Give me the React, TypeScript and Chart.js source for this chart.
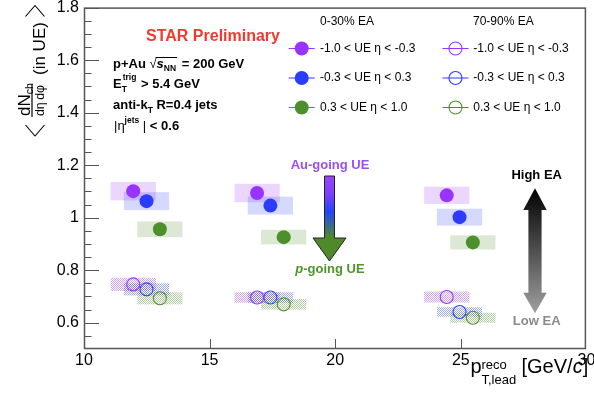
import { useEffect, useRef } from 'react';
import { Chart, registerables } from 'chart.js';

Chart.register(...registerables);

// ---- data ----
const X_PURPLE = [11.96, 16.89, 24.44];
const X_BLUE = [12.49, 17.42, 24.95];
const X_GREEN = [13.02, 17.95, 25.48];

// 0-30% EA (filled)
const HIGH_PURPLE = [1.101, 1.094, 1.085];
const HIGH_BLUE = [1.063, 1.046, 1.002];
const HIGH_GREEN = [0.956, 0.926, 0.906];
// 70-90% EA (open)
const LOW_PURPLE = [0.746, 0.696, 0.698];
const LOW_BLUE = [0.727, 0.696, 0.641];
const LOW_GREEN = [0.693, 0.67, 0.619];

// systematic half-heights
const SYS_HIGH_PURPLE = [0.035, 0.035, 0.033];
const SYS_HIGH_BLUE = [0.034, 0.034, 0.032];
const SYS_HIGH_GREEN = [0.03, 0.028, 0.027];
const SYS_LOW_PURPLE = [0.025, 0.02, 0.021];
const SYS_LOW_BLUE = [0.023, 0.02, 0.018];
const SYS_LOW_GREEN = [0.023, 0.02, 0.019];
const SYS_X = 0.9;

const X_TICKS = [10, 15, 20, 25, 30];
const Y_TICKS = [0.6, 0.8, 1, 1.2, 1.4, 1.6, 1.8];
const Y_MINOR_STEP = 0.05;

const ETA_LABELS = ['-1.0 < UE \u03b7 < -0.3', '-0.3 < UE \u03b7 < 0.3', '0.3 < UE \u03b7 < 1.0'];
const CLASS_LABELS = ['0-30% EA', '70-90% EA'];

const RGB_PURPLE = '153,51,255';
const RGB_BLUE = '43,60,255';
const RGB_GREEN = '77,143,42';

type Series = { xs: number[]; ys: number[]; sys: number[]; rgb: string; open: boolean; label: string };

const SERIES: Series[] = [
  { xs: X_PURPLE, ys: HIGH_PURPLE, sys: SYS_HIGH_PURPLE, rgb: RGB_PURPLE, open: false, label: ETA_LABELS[0] },
  { xs: X_BLUE, ys: HIGH_BLUE, sys: SYS_HIGH_BLUE, rgb: RGB_BLUE, open: false, label: ETA_LABELS[1] },
  { xs: X_GREEN, ys: HIGH_GREEN, sys: SYS_HIGH_GREEN, rgb: RGB_GREEN, open: false, label: ETA_LABELS[2] },
  { xs: X_PURPLE, ys: LOW_PURPLE, sys: SYS_LOW_PURPLE, rgb: RGB_PURPLE, open: true, label: ETA_LABELS[0] },
  { xs: X_BLUE, ys: LOW_BLUE, sys: SYS_LOW_BLUE, rgb: RGB_BLUE, open: true, label: ETA_LABELS[1] },
  { xs: X_GREEN, ys: LOW_GREEN, sys: SYS_LOW_GREEN, rgb: RGB_GREEN, open: true, label: ETA_LABELS[2] },
];

const FONT = '"Liberation Sans", Arial, Helvetica, sans-serif';

function dotPattern(ctx: CanvasRenderingContext2D, rgb: string) {
  const c = document.createElement('canvas');
  c.width = 2;
  c.height = 2;
  const g = c.getContext('2d')!;
  g.fillStyle = `rgba(${rgb},0.45)`;
  g.fillRect(0, 0, 1, 1);
  g.fillRect(1, 1, 1, 1);
  return ctx.createPattern(c, 'repeat')!;
}

const boxesPlugin = {
  id: 'sysBoxes',
  beforeDatasetsDraw(chart: any) {
    const { ctx, chartArea, scales } = chart;
    const x = scales.x;
    const y = scales.y;
    ctx.save();
    ctx.beginPath();
    ctx.rect(chartArea.left, chartArea.top, chartArea.right - chartArea.left, chartArea.bottom - chartArea.top);
    ctx.clip();
    SERIES.forEach((s) => {
      ctx.fillStyle = s.open ? dotPattern(ctx, s.rgb) : `rgba(${s.rgb},0.2)`;
      s.xs.forEach((xv, i) => {
        const x0 = x.getPixelForValue(xv - SYS_X);
        const x1 = x.getPixelForValue(xv + SYS_X);
        const y0 = y.getPixelForValue(s.ys[i] + s.sys[i]);
        const y1 = y.getPixelForValue(s.ys[i] - s.sys[i]);
        ctx.fillRect(x0, y0, x1 - x0, y1 - y0);
      });
    });
    ctx.restore();
  },
};

function fillRuns(ctx: CanvasRenderingContext2D, x: number, y: number, runs: { t: string; f: string; dy?: number }[]) {
  let cx = x;
  for (const r of runs) {
    ctx.font = r.f;
    ctx.fillText(r.t, cx, y + (r.dy || 0));
    cx += ctx.measureText(r.t).width;
  }
  return cx;
}

function runsWidth(ctx: CanvasRenderingContext2D, runs: { t: string; f: string }[]) {
  let w = 0;
  for (const r of runs) {
    ctx.font = r.f;
    w += ctx.measureText(r.t).width;
  }
  return w;
}

const decorPlugin = {
  id: 'decor',
  afterDatasetsDraw(chart: any) {
    const { ctx, chartArea, scales } = chart;
    const { left, right, top, bottom } = chartArea;
    const x = scales.x;
    const y = scales.y;
    ctx.save();

    // frame
    ctx.strokeStyle = '#555';
    ctx.lineWidth = 1.5;
    ctx.strokeRect(left + 0.5, top + 0.5, right - left - 1.5, bottom - top - 1);

    // y ticks (inside)
    ctx.strokeStyle = '#555';
    ctx.lineWidth = 1;
    ctx.beginPath();
    const nMinor = Math.round((1.8 - 0.5) / Y_MINOR_STEP);
    for (let k = 1; k <= nMinor; k++) {
      const v = Math.round((0.5 + k * Y_MINOR_STEP) * 100) / 100;
      const major = Y_TICKS.some((t) => Math.abs(t - v) < 1e-6);
      const py = Math.round(y.getPixelForValue(v)) + 0.5;
      ctx.moveTo(left, py);
      ctx.lineTo(left + (major ? 15 : 7.5), py);
    }
    // x ticks
    X_TICKS.forEach((t) => {
      if (t === X_TICKS[0] || t === X_TICKS[X_TICKS.length - 1]) return;
      const px = Math.round(x.getPixelForValue(t)) + 0.5;
      ctx.moveTo(px, bottom);
      ctx.lineTo(px, bottom - 10);
    });
    ctx.stroke();

    // ---- legend ----
    ctx.fillStyle = '#000';
    ctx.font = `12px ${FONT}`;
    ctx.textBaseline = 'middle';
    ctx.textAlign = 'left';
    ctx.fillText(CLASS_LABELS[0], 320, 22);
    ctx.fillText(CLASS_LABELS[1], 473, 22);
    const rowsY = [48.5, 78, 107.5];
    SERIES.forEach((s, i) => {
      const col = s.open ? 1 : 0;
      const row = i % 3;
      const mx = col === 0 ? 301.7 : 455.5;
      const my = rowsY[row];
      ctx.strokeStyle = `rgb(${s.rgb})`;
      ctx.lineWidth = 1;
      ctx.beginPath();
      ctx.moveTo(mx - 13, my);
      ctx.lineTo(mx + 13, my);
      ctx.stroke();
      ctx.beginPath();
      ctx.arc(mx, my, s.open ? 6.5 : 7, 0, Math.PI * 2);
      if (s.open) {
        ctx.lineWidth = 1.1;
        ctx.stroke();
      } else {
        ctx.fillStyle = `rgb(${s.rgb})`;
        ctx.fill();
      }
      ctx.fillStyle = '#000';
      ctx.font = `12px ${FONT}`;
      ctx.fillText(s.label, col === 0 ? 320 : 473.3, my);
    });

    // ---- STAR Preliminary ----
    ctx.textAlign = 'center';
    ctx.fillStyle = '#f03a2e';
    ctx.font = `bold 16px ${FONT}`;
    ctx.fillText('STAR Preliminary', 213, 37);

    // ---- info text ----
    ctx.textAlign = 'left';
    ctx.textBaseline = 'alphabetic';
    ctx.fillStyle = '#000';
    const B = `bold 13px ${FONT}`;
    const BS = `bold 8.5px ${FONT}`;
    // line 1
    let cx = fillRuns(ctx, 113, 67.5, [{ t: 'p+Au ', f: B }]);
    ctx.font = `13px ${FONT}`;
    ctx.fillText('\u221a', cx, 68);
    cx += ctx.measureText('\u221a').width;
    const ovStart = cx - 1;
    cx = fillRuns(ctx, cx, 67.5, [
      { t: 's', f: `italic bold 13px ${FONT}` },
      { t: 'NN', f: BS, dy: 3 },
    ]);
    ctx.lineWidth = 1;
    ctx.strokeStyle = '#000';
    ctx.beginPath();
    ctx.moveTo(ovStart, 57.5);
    ctx.lineTo(cx + 1, 57.5);
    ctx.stroke();
    fillRuns(ctx, cx + 2, 67.5, [{ t: ' = 200 GeV', f: B }]);
    // line 2
    cx = fillRuns(ctx, 113, 88, [{ t: 'E', f: B }]);
    ctx.font = BS;
    ctx.fillText('trig', cx + 1, 80);
    ctx.fillText('T', cx, 92);
    const wTrig = ctx.measureText('trig').width;
    fillRuns(ctx, cx + wTrig + 2, 88, [{ t: ' > 5.4 GeV', f: B }]);
    // line 3
    cx = fillRuns(ctx, 113, 109, [
      { t: 'anti-k', f: B },
      { t: 'T', f: BS, dy: 3.5 },
      { t: ' R=0.4 jets', f: B },
    ]);
    // line 4
    cx = fillRuns(ctx, 114, 130, [
      { t: '|\u03b7', f: `13px ${FONT}` },
      { t: 'jets', f: BS, dy: -7 },
      { t: ' |', f: `13px ${FONT}` },
      { t: ' < 0.6', f: B },
    ]);

    // ---- Au-going / p-going arrow ----
    ctx.textAlign = 'center';
    ctx.font = `bold 13px ${FONT}`;
    ctx.fillStyle = '#9a4ff2';
    ctx.fillText('Au-going UE', 330, 168.5);
    const grad = ctx.createLinearGradient(0, 176, 0, 261);
    grad.addColorStop(0, '#9a44ff');
    grad.addColorStop(0.22, '#7a40ff');
    grad.addColorStop(0.42, '#2244ff');
    grad.addColorStop(0.72, '#4e8a2a');
    grad.addColorStop(1, '#4e8a2a');
    ctx.beginPath();
    ctx.moveTo(324.5, 176);
    ctx.lineTo(334.5, 176);
    ctx.lineTo(334.5, 238);
    ctx.lineTo(346, 238);
    ctx.lineTo(329.5, 261);
    ctx.lineTo(313, 238);
    ctx.lineTo(324.5, 238);
    ctx.closePath();
    ctx.fillStyle = grad;
    ctx.fill();
    ctx.strokeStyle = '#222';
    ctx.lineWidth = 1;
    ctx.stroke();
    const pRuns = [
      { t: 'p', f: `italic bold 13px ${FONT}` },
      { t: '-going UE', f: `bold 13px ${FONT}` },
    ];
    ctx.textAlign = 'left';
    ctx.fillStyle = '#4e952a';
    const pw = runsWidth(ctx, pRuns);
    fillRuns(ctx, 330 - pw / 2, 273, pRuns);

    // ---- High EA / Low EA arrow ----
    ctx.textAlign = 'center';
    ctx.fillStyle = '#000';
    ctx.font = `bold 13px ${FONT}`;
    ctx.fillText('High EA', 536.7, 178.5);
    ctx.fillStyle = '#8a8a8a';
    ctx.fillText('Low EA', 536.7, 324.5);
    const g2 = ctx.createLinearGradient(0, 188, 0, 314);
    g2.addColorStop(0, '#000');
    g2.addColorStop(1, '#a0a0a0');
    ctx.beginPath();
    ctx.moveTo(535, 188.3);
    ctx.lineTo(546.7, 210);
    ctx.lineTo(541.6, 210);
    ctx.lineTo(541.6, 292.7);
    ctx.lineTo(546.7, 292.7);
    ctx.lineTo(535, 313.3);
    ctx.lineTo(523.3, 292.7);
    ctx.lineTo(528.4, 292.7);
    ctx.lineTo(528.4, 210);
    ctx.lineTo(523.3, 210);
    ctx.closePath();
    ctx.fillStyle = g2;
    ctx.fill();

    // ---- x axis title ----
    ctx.fillStyle = '#000';
    ctx.textAlign = 'left';
    ctx.font = `20px ${FONT}`;
    ctx.fillText('p', 470.5, 373);
    ctx.font = `13px ${FONT}`;
    ctx.fillText('reco', 481.5, 368.5);
    ctx.fillText('T,lead', 481.5, 384);
    fillRuns(ctx, 521.5, 373, [
      { t: '[GeV/', f: `20px ${FONT}` },
      { t: 'c', f: `italic 20px ${FONT}` },
      { t: ']', f: `20px ${FONT}` },
    ]);

    // ---- y axis title (rotated) ----
    ctx.save();
    ctx.translate(0, 140);
    ctx.rotate(-Math.PI / 2);
    ctx.textAlign = 'left';
    ctx.textBaseline = 'alphabetic';
    ctx.font = `17px ${FONT}`;
    ctx.fillText('(in UE)', 65, 45);
    ctx.font = `17px ${FONT}`;
    ctx.fillText('dN', 24, 29.5);
    const wdN = ctx.measureText('dN').width;
    ctx.font = `10.5px ${FONT}`;
    ctx.fillText('ch', 24 + wdN, 32.5);
    // fraction bar
    ctx.strokeStyle = '#000';
    ctx.lineWidth = 1.2;
    ctx.beginPath();
    ctx.moveTo(23, 32);
    ctx.lineTo(56, 32);
    ctx.stroke();
    // denominator fitted to ~31px
    const den = 'd\u03b7\u2009d\u03c6';
    ctx.font = `17px ${FONT}`;
    const dw = ctx.measureText(den).width;
    const fs = Math.min(17, (17 * 31) / dw);
    ctx.font = `${fs}px ${FONT}`;
    ctx.textAlign = 'center';
    ctx.fillText(den, 39.5, 44);
    ctx.restore();

    // angle brackets
    ctx.strokeStyle = '#000';
    ctx.lineWidth = 1.1;
    ctx.beginPath();
    ctx.moveTo(25.5, 125);
    ctx.lineTo(35, 136);
    ctx.lineTo(44.5, 125);
    ctx.moveTo(25.5, 16.5);
    ctx.lineTo(35, 5.5);
    ctx.lineTo(44.5, 16.5);
    ctx.stroke();

    ctx.restore();
  },
};

export default function App() {
  const ref = useRef<HTMLCanvasElement>(null);

  useEffect(() => {
    const canvas = ref.current;
    if (!canvas) return;
    const datasets = SERIES.map((s) => ({
      data: s.xs.map((xv, i) => ({ x: xv, y: s.ys[i] })),
      pointStyle: 'circle' as const,
      pointRadius: s.open ? 6.5 : 7,
      pointHoverRadius: s.open ? 6.5 : 7,
      pointBackgroundColor: s.open ? 'rgba(0,0,0,0)' : `rgb(${s.rgb})`,
      pointBorderColor: `rgb(${s.rgb})`,
      pointBorderWidth: s.open ? 1.1 : 0,
      showLine: false,
    }));
    const tickFont = { family: FONT, size: 16 };
    const chart = new Chart(canvas, {
      type: 'scatter',
      data: { datasets },
      plugins: [boxesPlugin, decorPlugin],
      options: {
        responsive: false,
        animation: false,
        events: [],
        layout: { padding: { top: 6, right: 7, left: 0, bottom: 0 } },
        plugins: { legend: { display: false }, tooltip: { enabled: false } },
        scales: {
          x: {
            type: 'linear',
            min: 10,
            max: 30,
            afterBuildTicks: (axis: any) => {
              axis.ticks = X_TICKS.map((value) => ({ value }));
            },
            afterFit: (scale: any) => {
              scale.height = 54;
              scale.paddingLeft = 0;
              scale.paddingRight = 0;
              scale.paddingTop = 0;
              scale.paddingBottom = 0;
            },
            grid: { display: false, drawTicks: false },
            border: { display: false },
            ticks: {
              font: tickFont,
              color: '#000',
              padding: 2,
              maxRotation: 0,
              autoSkip: false,
              callback: (v: any) => String(v),
            },
          },
          y: {
            type: 'linear',
            min: 0.5,
            max: 1.8,
            afterBuildTicks: (axis: any) => {
              axis.ticks = Y_TICKS.map((value) => ({ value }));
            },
            afterFit: (scale: any) => {
              scale.width = 84;
              scale.paddingLeft = 0;
              scale.paddingRight = 0;
              scale.paddingTop = 0;
              scale.paddingBottom = 0;
            },
            grid: { display: false, drawTicks: false },
            border: { display: false },
            ticks: {
              font: tickFont,
              color: '#000',
              padding: 5,
              autoSkip: false,
              callback: (v: any) => (Number(v) === 1 ? '1' : Number(v).toFixed(1)),
            },
          },
        },
      },
    });
    return () => chart.destroy();
  }, []);

  return (
    <div style={{ position: 'fixed', left: 0, top: 0, width: 594, height: 403, background: '#fff' }}>
      <canvas ref={ref} width={594} height={403} style={{ width: 594, height: 403, display: 'block' }} />
    </div>
  );
}
